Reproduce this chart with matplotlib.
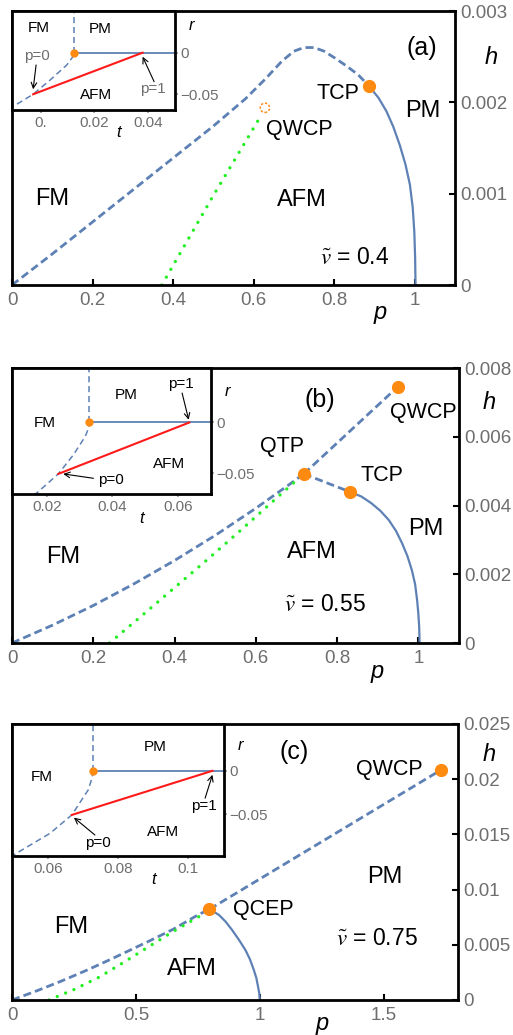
import numpy as np
import matplotlib
matplotlib.use('Agg')
import matplotlib.pyplot as plt

plt.rcParams['font.family'] = ['Liberation Sans', 'DejaVu Sans']
plt.rcParams['mathtext.fontset'] = 'stix'

BLUE = '#5E81B5'
ORANGE = '#FF8A10'
GREEN = '#22EE22'
RED = '#FF1A1A'
TICKGRAY = '#6E6E6E'

# ---------------- panel (a) data, v = 0.4
a_dash_p = [0, 0.1, 0.2, 0.3, 0.4, 0.5, 0.58, 0.63, 0.67, 0.70, 0.725, 0.75, 0.775, 0.80, 0.83, 0.86, 0.886]
a_dash_h = [0, 0.00034, 0.00069, 0.00104, 0.00139, 0.00174, 0.00204, 0.00226, 0.00245, 0.00256,
            0.0026, 0.0026, 0.00256, 0.00249, 0.0024, 0.0023, 0.00218]
a_solid_p = [0.886, 0.91, 0.93, 0.947, 0.963, 0.977, 0.988, 0.995, 0.999, 1.001, 1.002]
a_solid_h = [0.00218, 0.00205, 0.0019, 0.00173, 0.00153, 0.00132, 0.0011, 0.00085, 0.00058, 0.0003, 0]
a_green_p = [0.372, 0.5, 0.619]
a_green_h = [0, 0.00098, 0.00186]
a_tcp = (0.886, 0.00218)
a_qwcp = (0.628, 0.00194)

# inset (a)
ai_curve_t = [-0.012, -0.0028, 0.0035, 0.0097, 0.0118, 0.01245]
ai_curve_r = [-0.068, -0.05, -0.033, -0.015, -0.006, 0]
ai_dot = (0.01245, 0)
ai_red_t = [-0.0028, 0.0381]
ai_red_r = [-0.05, 0]

# ---------------- panel (b) data, v = 0.55
b_dash1_p = [0, 0.1, 0.2, 0.3, 0.4, 0.5, 0.6, 0.68, 0.718]
b_dash1_h = [0, 0.00052, 0.00109, 0.00172, 0.0024, 0.00313, 0.00392, 0.00459, 0.00492]
b_dash2_p = [0.718, 0.95]
b_dash2_h = [0.00492, 0.00746]
b_dash3_p = [0.718, 0.831]
b_dash3_h = [0.00492, 0.0044]
b_solid_p = [0.831, 0.86, 0.885, 0.907, 0.927, 0.945, 0.96, 0.973, 0.984, 0.992, 0.997, 1.0, 1.002, 1.003]
b_solid_h = [0.0044, 0.00426, 0.00406, 0.00384, 0.00358, 0.00326, 0.0029, 0.00253, 0.00212, 0.00171,
             0.00124, 0.00085, 0.00047, 0]
b_green_p = [0.24, 0.32, 0.4, 0.48, 0.56, 0.64, 0.718]
b_green_h = [0, 0.0008, 0.00161, 0.00242, 0.00325, 0.0041, 0.00492]
b_dots_p = [0.95, 0.718, 0.831]
b_dots_h = [0.00746, 0.00492, 0.0044]

bi_curve_t = [0.016, 0.0174, 0.0235, 0.0281, 0.0317, 0.0328, 0.033]
bi_curve_r = [-0.072, -0.0682, -0.0507, -0.0319, -0.0138, -0.005, 0]
bi_dot = (0.033, 0)
bi_red_t = [0.0235, 0.0634]
bi_red_r = [-0.0507, 0]

# ---------------- panel (c) data, v = 0.75
c_dash1_p = [0, 0.1, 0.2, 0.3, 0.4, 0.55, 0.65, 0.75, 0.797]
c_dash1_h = [0, 0.00083, 0.00172, 0.00268, 0.0037, 0.0053, 0.0064, 0.0077, 0.00822]
c_dash2_p = [0.797, 1.733]
c_dash2_h = [0.00822, 0.02086]
c_solid_p = [0.797, 0.835, 0.862, 0.888, 0.915, 0.942, 0.96, 0.976, 0.986, 0.993, 0.998, 1.0]
c_solid_h = [0.00822, 0.00771, 0.0071, 0.00635, 0.00548, 0.00453, 0.0037, 0.00272, 0.002, 0.00121, 0.0006, 0]
c_green_p = [0.149, 0.25, 0.35, 0.45, 0.552, 0.65, 0.754, 0.797]
c_green_h = [0, 0.00095, 0.00205, 0.0034, 0.00483, 0.0062, 0.00755, 0.00822]
c_dots_p = [1.733, 0.797]
c_dots_h = [0.02086, 0.00822]

ci_curve_t = [0.0490, 0.05, 0.0605, 0.0667, 0.0714, 0.0725, 0.0728]
ci_curve_r = [-0.099, -0.097, -0.0719, -0.0508, -0.0219, -0.008, 0]
ci_dot = (0.0728, 0)
ci_red_t = [0.0667, 0.1069]
ci_red_r = [-0.0508, 0]

W, H = 513, 1035
fig = plt.figure(figsize=(W / 100, H / 100), dpi=100)


def px_axes(left, top, right, bottom):
    return fig.add_axes([left / W, 1 - bottom / H, (right - left) / W, (bottom - top) / H])


def style_main(ax, xlim, ylim, xticks, xlabels, yticks, ylabels):
    ax.set_xlim(*xlim)
    ax.set_ylim(*ylim)
    for s in ax.spines.values():
        s.set_linewidth(2.0)
        s.set_color('black')
    ax.set_xticks(xticks)
    ax.set_xticklabels(xlabels)
    ax.set_yticks(yticks)
    ax.set_yticklabels(ylabels)
    ax.yaxis.tick_right()
    ax.tick_params(axis='both', direction='in', length=4, width=1.5, color='black',
                   labelsize=13.5, labelcolor=TICKGRAY)
    ax.tick_params(axis='x', pad=5)
    ax.tick_params(axis='y', pad=4)


def style_inset(ax, xlim, ylim, xticks, xlabels):
    ax.set_xlim(*xlim)
    ax.set_ylim(*ylim)
    ax.set_facecolor('white')
    for s in ax.spines.values():
        s.set_linewidth(2.0)
        s.set_color('black')
    ax.set_xticks(xticks)
    ax.set_xticklabels(xlabels)
    ax.set_yticks([0, -0.05])
    ax.set_yticklabels(['0', '\u22120.05'])
    ax.yaxis.tick_right()
    ax.tick_params(axis='both', direction='out', length=2, width=1.2, color='#999999',
                   labelsize=11, labelcolor=TICKGRAY, pad=2)


dash_kw = dict(color=BLUE, lw=2.0, dashes=(2.9, 1.5))
dot_kw = dict(color=GREEN, lw=2.4, dashes=(0.01, 2.7), dash_capstyle='round')
solid_kw = dict(color=BLUE, lw=1.6)
idash_kw = dict(color=BLUE, lw=1.1, dashes=(4, 2.5))
big = 17
mid = 15.5

# ======================= (a)
ax = px_axes(12, 11, 455, 285)
style_main(ax, (0, 1.1), (0, 0.003), [0, 0.2, 0.4, 0.6, 0.8, 1], ['0', '0.2', '0.4', '0.6', '0.8', '1'],
           [0, 0.001, 0.002, 0.003], ['0', '0.001', '0.002', '0.003'])
ax.plot(a_dash_p, a_dash_h, **dash_kw)
ax.plot(a_solid_p, a_solid_h, **solid_kw)
ax.plot(a_green_p, a_green_h, **dot_kw)
ax.plot(*a_tcp, 'o', color=ORANGE, ms=8.5, zorder=5)
ax.scatter([a_qwcp[0]], [a_qwcp[1]], s=45, facecolors='none', edgecolors=ORANGE,
           linewidths=1.1, linestyles=(0, (1.5, 1.2)), zorder=5)
ax.text(1.017, 0.0026, '(a)', fontsize=18, ha='center', va='center')
ax.text(0.81, 0.0021, 'TCP', fontsize=mid, ha='center', va='center')
ax.text(1.02, 0.0019, 'PM', fontsize=big, ha='center', va='center')
ax.text(0.713, 0.0017, 'QWCP', fontsize=mid, ha='center', va='center')
ax.text(0.10, 0.00094, 'FM', fontsize=big, ha='center', va='center')
ax.text(0.72, 0.00093, 'AFM', fontsize=big, ha='center', va='center')
ax.text(0.85, 0.0003, r'$\tilde{v}$ = 0.4', fontsize=16.5, ha='center', va='center')
ax.text(0.831, -0.102, 'p', style='italic', fontsize=17, ha='center', va='center', transform=ax.transAxes)
ax.text(1.081, 0.832, 'h', style='italic', fontsize=17, ha='center', va='center', transform=ax.transAxes)

ai = px_axes(12, 11, 175, 110)
style_inset(ai, (-0.0107, 0.0502), (-0.0689, 0.0501), [0, 0.02, 0.04], ['0.', '0.02', '0.04'])
ai.plot(ai_curve_t, ai_curve_r, **idash_kw)
ai.plot([ai_dot[0], ai_dot[0]], [0, 0.06], **idash_kw)
ai.plot([ai_dot[0], 0.06], [0, 0], color=BLUE, lw=1.3)
ai.plot(ai_red_t, ai_red_r, color=RED, lw=1.5)
ai.plot(*ai_dot, 'o', color=ORANGE, ms=5, zorder=5)
ai.text(-0.0006, 0.0295, 'FM', fontsize=11, ha='center', va='center')
ai.text(0.0222, 0.028, 'PM', fontsize=11, ha='center', va='center')
ai.text(0.0207, -0.051, 'AFM', fontsize=11, ha='center', va='center')
ai.text(-0.0015, -0.004, 'p=0', fontsize=11, ha='center', va='center', color=TICKGRAY)
ai.annotate('', xy=(-0.0028, -0.044), xytext=(-0.0017, -0.0148),
            arrowprops=dict(arrowstyle='->', lw=0.8, color='black', shrinkA=0, shrinkB=0))
ai.text(0.042, -0.0437, 'p=1', fontsize=11, ha='center', va='center', color=TICKGRAY)
ai.annotate('', xy=(0.0381, -0.0048), xytext=(0.0424, -0.0349),
            arrowprops=dict(arrowstyle='->', lw=0.8, color='black', shrinkA=0, shrinkB=0))
ai.text(0.0564, 0.0321, 'r', style='italic', fontsize=12, ha='center', va='center')
ai.text(0.0293, -0.0965, 't', style='italic', fontsize=12, ha='center', va='center')

# ======================= (b)
bx = px_axes(12, 368, 459, 643)
style_main(bx, (0, 1.1), (0, 0.008), [0, 0.2, 0.4, 0.6, 0.8, 1], ['0', '0.2', '0.4', '0.6', '0.8', '1'],
           [0, 0.002, 0.004, 0.006, 0.008], ['0', '0.002', '0.004', '0.006', '0.008'])
bx.plot(b_dash1_p, b_dash1_h, **dash_kw)
bx.plot(b_dash2_p, b_dash2_h, **dash_kw)
bx.plot(b_dash3_p, b_dash3_h, **dash_kw)
bx.plot(b_solid_p, b_solid_h, **solid_kw)
bx.plot(b_green_p, b_green_h, **dot_kw)
bx.plot(b_dots_p, b_dots_h, 'o', color=ORANGE, ms=8.5, ls='none', zorder=5)
bx.text(0.757, 0.00708, '(b)', fontsize=18, ha='center', va='center')
bx.text(1.011, 0.00671, 'QWCP', fontsize=mid, ha='center', va='center')
bx.text(0.664, 0.00571, 'QTP', fontsize=mid, ha='center', va='center')
bx.text(0.91, 0.00486, 'TCP', fontsize=mid, ha='center', va='center')
bx.text(1.019, 0.00331, 'PM', fontsize=big, ha='center', va='center')
bx.text(0.127, 0.00249, 'FM', fontsize=big, ha='center', va='center')
bx.text(0.738, 0.00265, 'AFM', fontsize=big, ha='center', va='center')
bx.text(0.77, 0.00113, r'$\tilde{v}$ = 0.55', fontsize=16.5, ha='center', va='center')
bx.text(0.816, -0.102, 'p', style='italic', fontsize=17, ha='center', va='center', transform=bx.transAxes)
bx.text(1.068, 0.875, 'h', style='italic', fontsize=17, ha='center', va='center', transform=bx.transAxes)

bi = px_axes(12, 368, 211, 494)
style_inset(bi, (0.0094, 0.070), (-0.0705, 0.0537), [0.02, 0.04, 0.06], ['0.02', '0.04', '0.06'])
bi.plot(bi_curve_t, bi_curve_r, **idash_kw)
bi.plot([bi_dot[0], bi_dot[0]], [0, 0.06], **idash_kw)
bi.plot([bi_dot[0], 0.075], [0, 0], color=BLUE, lw=1.3)
bi.plot(bi_red_t, bi_red_r, color=RED, lw=1.5)
bi.plot(*bi_dot, 'o', color=ORANGE, ms=5, zorder=5)
bi.text(0.0193, -0.0006, 'FM', fontsize=11, ha='center', va='center')
bi.text(0.0441, 0.0267, 'PM', fontsize=11, ha='center', va='center')
bi.text(0.0572, -0.041, 'AFM', fontsize=11, ha='center', va='center')
bi.text(0.0607, 0.038, 'p=1', fontsize=11, ha='center', va='center')
bi.annotate('', xy=(0.0632, 0.0027), xytext=(0.0612, 0.029),
            arrowprops=dict(arrowstyle='->', lw=0.8, color='black', shrinkA=0, shrinkB=0))
bi.text(0.0396, -0.0566, 'p=0', fontsize=11, ha='center', va='center')
bi.annotate('', xy=(0.0250, -0.0507), xytext=(0.0342, -0.055),
            arrowprops=dict(arrowstyle='->', lw=0.8, color='black', shrinkA=0, shrinkB=0))
bi.text(0.075, 0.0306, 'r', style='italic', fontsize=12, ha='center', va='center')
bi.text(0.049, -0.0945, 't', style='italic', fontsize=12, ha='center', va='center')

# ======================= (c)
cx = px_axes(12, 724, 458, 1000)
style_main(cx, (0, 1.8), (0, 0.025), [0, 0.5, 1, 1.5], ['0', '0.5', '1', '1.5'],
           [0, 0.005, 0.01, 0.015, 0.02, 0.025], ['0', '0.005', '0.01', '0.015', '0.02', '0.025'])
cx.plot(c_dash1_p, c_dash1_h, **dash_kw)
cx.plot(c_dash2_p, c_dash2_h, **dash_kw)
cx.plot(c_solid_p, c_solid_h, **solid_kw)
cx.plot(c_green_p, c_green_h, **dot_kw)
cx.plot(c_dots_p, c_dots_h, 'o', color=ORANGE, ms=8.5, ls='none', zorder=5)
cx.text(1.14, 0.0225, '(c)', fontsize=18, ha='center', va='center')
cx.text(1.523, 0.02086, 'QWCP', fontsize=mid, ha='center', va='center')
cx.text(1.503, 0.0111, 'PM', fontsize=big, ha='center', va='center')
cx.text(1.016, 0.00816, 'QCEP', fontsize=mid, ha='center', va='center')
cx.text(0.24, 0.00665, 'FM', fontsize=big, ha='center', va='center')
cx.text(0.727, 0.00278, 'AFM', fontsize=big, ha='center', va='center')
cx.text(1.473, 0.0056, r'$\tilde{v}$ = 0.75', fontsize=16.5, ha='center', va='center')
cx.text(0.695, -0.085, 'p', style='italic', fontsize=17, ha='center', va='center', transform=cx.transAxes)
cx.text(1.069, 0.889, 'h', style='italic', fontsize=17, ha='center', va='center', transform=cx.transAxes)

ci = px_axes(12, 724, 224, 856)
style_inset(ci, (0.0496, 0.1102), (-0.0981, 0.0539), [0.06, 0.08, 0.1], ['0.06', '0.08', '0.1'])
ci.plot(ci_curve_t, ci_curve_r, **idash_kw)
ci.plot([ci_dot[0], ci_dot[0]], [0, 0.06], **idash_kw)
ci.plot([ci_dot[0], 0.115], [0, 0], color=BLUE, lw=1.3)
ci.plot(ci_red_t, ci_red_r, color=RED, lw=1.5)
ci.plot(*ci_dot, 'o', color=ORANGE, ms=5, zorder=5)
ci.text(0.058, -0.0077, 'FM', fontsize=11, ha='center', va='center')
ci.text(0.0905, 0.0274, 'PM', fontsize=11, ha='center', va='center')
ci.text(0.0928, -0.071, 'AFM', fontsize=11, ha='center', va='center')
ci.text(0.1046, -0.0404, 'p=1', fontsize=11, ha='center', va='center')
ci.annotate('', xy=(0.1069, -0.0046), xytext=(0.1048, -0.0315),
            arrowprops=dict(arrowstyle='->', lw=0.8, color='black', shrinkA=0, shrinkB=0))
ci.text(0.0742, -0.0835, 'p=0', fontsize=11, ha='center', va='center')
ci.annotate('', xy=(0.0673, -0.0539), xytext=(0.0733, -0.0739),
            arrowprops=dict(arrowstyle='->', lw=0.8, color='black', shrinkA=0, shrinkB=0))
ci.text(0.1148, 0.0289, 'r', style='italic', fontsize=12, ha='center', va='center')
ci.text(0.09, -0.125, 't', style='italic', fontsize=12, ha='center', va='center')

fig.savefig('out.png', dpi=100)
